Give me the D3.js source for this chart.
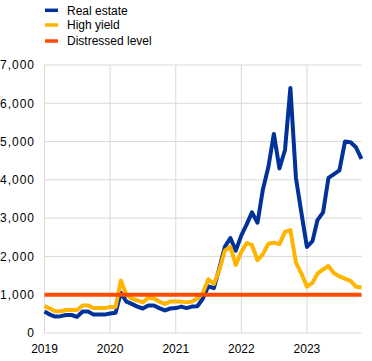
<!DOCTYPE html>
<html>
<head>
<meta charset="utf-8">
<script src="https://cdn.jsdelivr.net/npm/d3@7"></script>
<style>
  html, body { margin: 0; padding: 0; background: #fff; }
  svg { display: block; font-family: "Liberation Sans", Arial, sans-serif; }
</style>
</head>
<body>
<svg id="chart" width="372" height="361"></svg>
<script>
// ---- data (monthly, Jan 2019 – Nov 2023) ----
const startMonth = "2019-01";
const realEstate = [
  560, 480, 430, 440, 470, 470, 420, 560, 560, 480, 480, 480,
  510, 530, 1050, 820, 760, 690, 640, 720, 720, 650, 590, 640,
  650, 690, 650, 690, 700, 900, 1220, 1170, 1700, 2250, 2480, 2150,
  2550, 2850, 3150, 2880, 3750, 4350, 5200, 4300, 4780, 6400, 4050, 3150,
  2250, 2400, 2950, 3150, 4050, 4150, 4250, 5000, 4980, 4850, 4550
];
const highYield = [
  700, 640, 570, 570, 600, 600, 600, 720, 720, 650, 650, 650,
  680, 680, 1370, 1000, 900, 850, 800, 920, 900, 820, 760, 820,
  820, 820, 800, 820, 900, 1050, 1400, 1280, 1650, 2150, 2250, 1780,
  2120, 2350, 2300, 1900, 2060, 2330, 2360, 2320, 2640, 2690, 1840, 1560,
  1210, 1310, 1550, 1660, 1750, 1560, 1480, 1420, 1360, 1210, 1190
];
const distressedLevel = 1000;
const seriesNames = ["Real estate", "High yield", "Distressed level"];
const seriesColors = ["#003299", "#ffb400", "#ff4b00"];
const yTicks = [0, 1000, 2000, 3000, 4000, 5000, 6000, 7000];
const xTickYears = [2019, 2020, 2021, 2022, 2023];

(function () {
  const parse = d3.timeParse("%Y-%m");
  const t0 = parse(startMonth);
  const dates = realEstate.map((_, i) => d3.timeMonth.offset(t0, i));

  const svg = d3.select("#chart");
  const mL = 44.5, mR = 361.5, mT = 65, mB = 333;

  const x = d3.scaleTime()
    .domain([t0, dates[dates.length - 1]])
    .range([mL, mR]);
  const y = d3.scaleLinear().domain([0, 7000]).range([mB, mT]);

  const grid = svg.append("g");
  grid.selectAll("line.h").data(yTicks.filter(d => d > 0)).join("line")
    .attr("x1", mL).attr("x2", mR)
    .attr("y1", d => y(d)).attr("y2", d => y(d))
    .attr("stroke", "#d9d9d9").attr("stroke-width", 1);
  grid.selectAll("line.v").data(xTickYears.slice(1)).join("line")
    .attr("x1", d => x(new Date(d, 0, 1))).attr("x2", d => x(new Date(d, 0, 1)))
    .attr("y1", mT).attr("y2", mB)
    .attr("stroke", "#d9d9d9").attr("stroke-width", 1);

  svg.append("line").attr("x1", mL).attr("x2", mL).attr("y1", mT).attr("y2", mB)
    .attr("stroke", "#d9d9d9").attr("stroke-width", 1);
  svg.append("line").attr("x1", mL).attr("x2", mR).attr("y1", mB).attr("y2", mB)
    .attr("stroke", "#d9d9d9").attr("stroke-width", 1);

  const fmt = d3.format(",");
  svg.append("g").selectAll("text").data(yTicks).join("text")
    .attr("x", 35).attr("y", d => y(d) + 4.3)
    .attr("text-anchor", "end")
    .attr("font-size", 12).attr("fill", "#000")
    .attr("letter-spacing", 1)
    .text(d => fmt(d));

  svg.append("g").selectAll("text").data(xTickYears).join("text")
    .attr("x", d => x(new Date(d, 0, 1)))
    .attr("y", 353)
    .attr("text-anchor", "middle")
    .attr("font-size", 12).attr("fill", "#000")
    .text(d => d);

  const line = d3.line().x((d, i) => x(dates[i])).y(d => y(d));
  svg.append("path").datum(realEstate).attr("d", line)
    .attr("fill", "none").attr("stroke", seriesColors[0]).attr("stroke-width", 4)
    .attr("stroke-linejoin", "round");
  svg.append("path").datum(highYield).attr("d", line)
    .attr("fill", "none").attr("stroke", seriesColors[1]).attr("stroke-width", 4)
    .attr("stroke-linejoin", "round");
  svg.append("line")
    .attr("x1", mL).attr("x2", mR)
    .attr("y1", y(distressedLevel)).attr("y2", y(distressedLevel))
    .attr("stroke", seriesColors[2]).attr("stroke-width", 4);

  const lg = svg.append("g");
  const legY = [10.3, 25, 41];
  seriesNames.forEach((name, i) => {
    lg.append("line").attr("x1", 45).attr("x2", 58)
      .attr("y1", legY[i]).attr("y2", legY[i])
      .attr("stroke", seriesColors[i]).attr("stroke-width", 3.5);
    lg.append("text").attr("x", 67).attr("y", legY[i] + 4.3)
      .attr("font-size", 12).attr("fill", "#000").text(name);
  });
})();
</script>
</body>
</html>
